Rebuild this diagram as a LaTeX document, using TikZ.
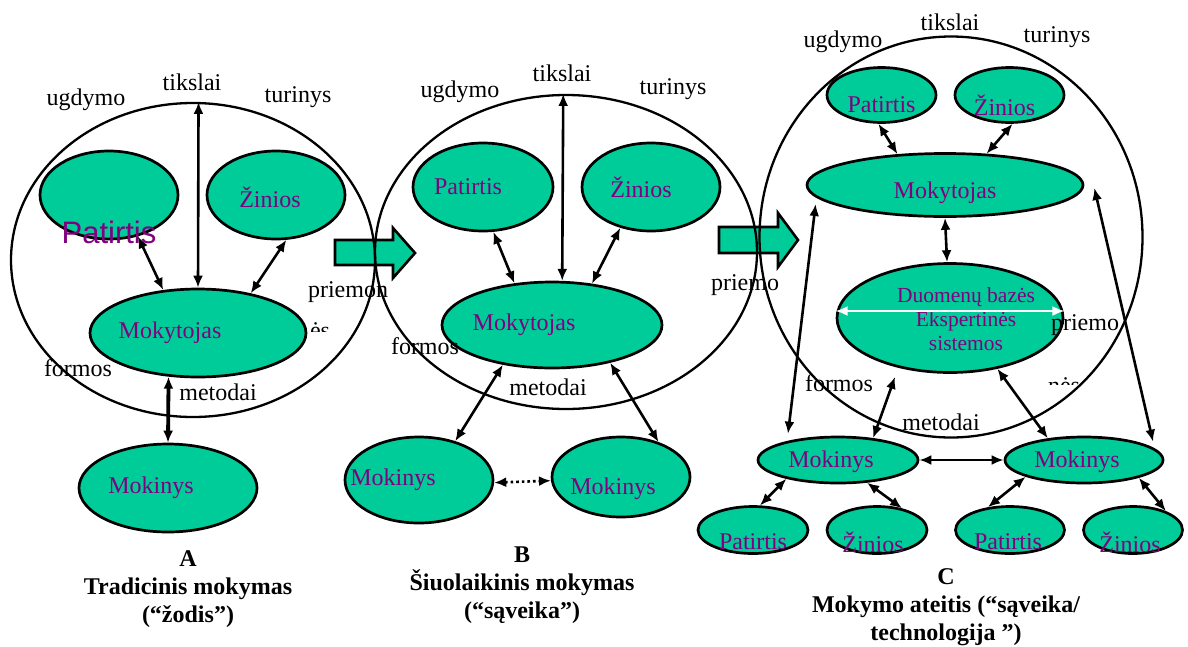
\documentclass[tikz,border=0pt]{standalone}
\usepackage{fontspec}
\setmainfont{Liberation Serif}
\newfontfamily\arialfont{Liberation Sans}
\usetikzlibrary{arrows.meta,shapes.geometric}
\definecolor{teal0}{RGB}{0,204,153}
\definecolor{violet0}{RGB}{128,0,128}
\tikzset{
  blob/.style={ellipse, draw, line width=2.7pt, fill=teal0, inner sep=0pt},
  ring/.style={ellipse, draw, line width=2.3pt, inner sep=0pt},
  lbl/.style={font=\fontsize{24}{27}\selectfont, inner sep=0pt},
  ptxt/.style={lbl, text=violet0},
  captxt/.style={font=\fontsize{24}{28}\selectfont\bfseries, align=center, inner sep=0pt},
  link/.style={<->, line width=2.6pt},
  blockarr/.style={draw, line width=2.6pt, fill=teal0}
}
\begin{document}
\begin{tikzpicture}[x=1pt,y=-1pt,>={Latex[length=12pt,width=10pt]}]
  \useasboundingbox (0,0) rectangle (1188,646);

  \draw[blockarr] (335,240) -- (393,240) -- (393,228) -- (415,253) -- (393,278) -- (393,265) -- (335,265) -- cycle;
  \draw[blockarr] (719,227) -- (778,227) -- (778,213) -- (798,240) -- (778,267) -- (778,253) -- (719,253) -- cycle;

  % A
  \node[ring, minimum width=364pt, minimum height=314pt] (circA) at (193,260) {};
  \node[blob, minimum width=138pt, minimum height=88pt, label={[ptxt,font=\arialfont\fontsize{31}{33}\selectfont,yshift=-37pt]center:Patirtis}] (patA) at (109,195) {};
  \node[blob, minimum width=138pt, minimum height=88pt, label={[ptxt,xshift=-6pt,yshift=-2pt]center:Žinios}] (zinA) at (276,195) {};
  \node[blob, minimum width=216pt, minimum height=88pt, label={[ptxt,xshift=-28pt]center:Mokytojas}] (mokA) at (198,333) {};
  \node[blob, minimum width=178pt, minimum height=88pt, label={[ptxt,xshift=-17pt]center:Mokinys}] (minA) at (168,488) {};

  \draw[link] (circA.88) -- (mokA.north);
  \draw[link] (patA.-55) -- (mokA.129);
  \draw[link] (zinA.-77) -- (mokA.37);
  \draw[link, line width=3.8pt] (mokA.-124) -- (minA.north);

  \node[lbl] (ugdA) at (86,100) {ugdymo};
  \node[lbl] (tikA) at (192,82) {tikslai};
  \node[lbl] (turA) at (298,97) {turinys};
  \node[lbl] (prA) at (348,292) {priemon};
  \node[lbl] (forA) at (78,368) {formos};
  \node[lbl] (metA) at (218,392) {metodai};
  \begin{scope}
    \clip (300,315) rectangle (340,331);
    \node[lbl, anchor=base] (esA) at (320,338) {ės};
  \end{scope}
  \node[captxt] (capA) at (188,589) {A\\Tradicinis mokymas\\(“žodis”)};

  % B
  \node[ring, minimum width=382pt, minimum height=314pt] (circB) at (566,252) {};
  \node[blob, minimum width=140pt, minimum height=88pt, label={[ptxt,xshift=-15pt]center:Patirtis}] (patB) at (483,187) {};
  \node[blob, minimum width=138pt, minimum height=88pt, label={[ptxt,xshift=-10pt]center:Žinios}] (zinB) at (651,187) {};
  \node[blob, minimum width=220pt, minimum height=86pt, label={[ptxt,xshift=-28pt]center:Mokytojas}] (mokB) at (552,325) {};
  \node[blob, minimum width=148pt, minimum height=86pt, label={[ptxt,xshift=-26pt]center:Mokinys}] (minB1) at (419,480) {};
  \node[blob, minimum width=138pt, minimum height=80pt, label={[ptxt,xshift=-8pt,yshift=-12pt]center:Mokinys}] (minB2) at (621,477) {};

  \draw[link] (circB.91) -- (mokB.77);
  \draw[link] (patB.-77) -- (mokB.132);
  \draw[link] (zinB.-127) -- (mokB.46);
  \draw[link] (mokB.-141) -- (minB1.47);
  \draw[link] (mokB.-33) -- (minB2.43);
  \draw[link, dash pattern=on 2.6pt off 3pt] (minB1.-2) -- (minB2.183);

  \node[lbl] (ugdB) at (460,92) {ugdymo};
  \node[lbl] (tikB) at (562,73) {tikslai};
  \node[lbl] (turB) at (673,89) {turinys};
  \node[lbl] (forB) at (425,346) {formos};
  \node[lbl] (metB) at (548,387) {metodai};
  \node[captxt] (capB) at (522,585) {B\\Šiuolaikinis mokymas\\(“sąveika”)};

  % C
  \node[ring, minimum width=383pt, minimum height=401pt] (circC) at (951,237) {};
  \node[blob, minimum width=109pt, minimum height=55pt, label={[ptxt,yshift=-10pt]center:Patirtis}] (patC) at (881.5,95) {};
  \node[blob, minimum width=109pt, minimum height=55pt, label={[ptxt,xshift=-5pt,yshift=-10pt]center:Žinios}] (zinC) at (1009.5,95) {};
  \node[blob, minimum width=276pt, minimum height=63pt, label={[ptxt,yshift=-8pt]center:Mokytojas}] (mokC) at (945,185) {};
  \node[blob, minimum width=226pt, minimum height=109pt, label={[ptxt,font=\fontsize{21.5}{24}\selectfont,align=center,xshift=16pt,yshift=-1pt]center:Duomenų bazės\\Ekspertinės\\sistemos}] (duoC) at (950,318) {};
  \node[blob, minimum width=160pt, minimum height=46pt, label={[ptxt,xshift=-7pt,yshift=-2pt]center:Mokinys}] (minC1) at (838,460) {};
  \node[blob, minimum width=158pt, minimum height=46pt, label={[ptxt,xshift=-7pt,yshift=-2pt]center:Mokinys}] (minC2) at (1084,460) {};
  \node[blob, minimum width=110pt, minimum height=47pt, label={[ptxt,yshift=-12pt]center:Patirtis}] (patCL) at (753,530) {};
  \node[blob, minimum width=100pt, minimum height=47pt, label={[ptxt,xshift=-4pt,yshift=-12pt]center:Žinios}] (zinCL) at (877,530) {};
  \node[blob, minimum width=109pt, minimum height=47pt, label={[ptxt,xshift=-2pt,yshift=-12pt]center:Patirtis}] (patCR) at (1010,530) {};
  \node[blob, minimum width=99pt, minimum height=47pt, label={[ptxt,xshift=-3pt,yshift=-12pt]center:Žinios}] (zinCR) at (1133,530) {};

  \draw[link] (patC.-96) -- (mokC.147);
  \draw[link] (zinC.-84) -- (mokC.37);
  \draw[link] (mokC.south) -- (duoC.93);
  \draw[link, white, line width=1.8pt] ([yshift=7pt]duoC.west) -- ([yshift=7pt]duoC.east);
  \draw[link] ([xshift=10pt,yshift=-19pt]mokC.west) -- ([xshift=-50pt,yshift=2pt]minC1.north);
  \draw[link] ([xshift=10pt,yshift=-3pt]mokC.east) -- ([xshift=69pt,yshift=-6pt]minC2.north);
  \draw[link] ([xshift=-55pt,yshift=-3pt]duoC.south) -- (minC1.32);
  \draw[link] (duoC.-47) -- (minC2.149);
  \draw[link] (minC1.east) -- (minC2.west);
  \draw[link] (minC1.-160) -- (patCL.74);
  \draw[link] (minC1.-38) -- (zinCL.41);
  \draw[link] (minC2.-164) -- (patCR.134);
  \draw[link] (minC2.-18) -- (zinCR.30);

  \node[lbl] (ugdC) at (843,42) {ugdymo};
  \node[lbl] (tikC) at (950,22) {tikslai};
  \node[lbl] (turC) at (1057,37) {turinys};
  \node[lbl] (prC1) at (745,285) {priemo};
  \node[lbl] (prC2) at (1085,325) {priemo};
  \node[lbl] (forC) at (839,383) {formos};
  \node[lbl] (metC) at (941,422) {metodai};
  \begin{scope}
    \clip (1040,370) rectangle (1090,384);
    \node[lbl, anchor=base] (nesC) at (1064,393) {nės};
  \end{scope}
  \node[captxt] (capC) at (946,607) {C\\Mokymo ateitis (“sąveika/\\technologija ”)};
\end{tikzpicture}
\end{document}
